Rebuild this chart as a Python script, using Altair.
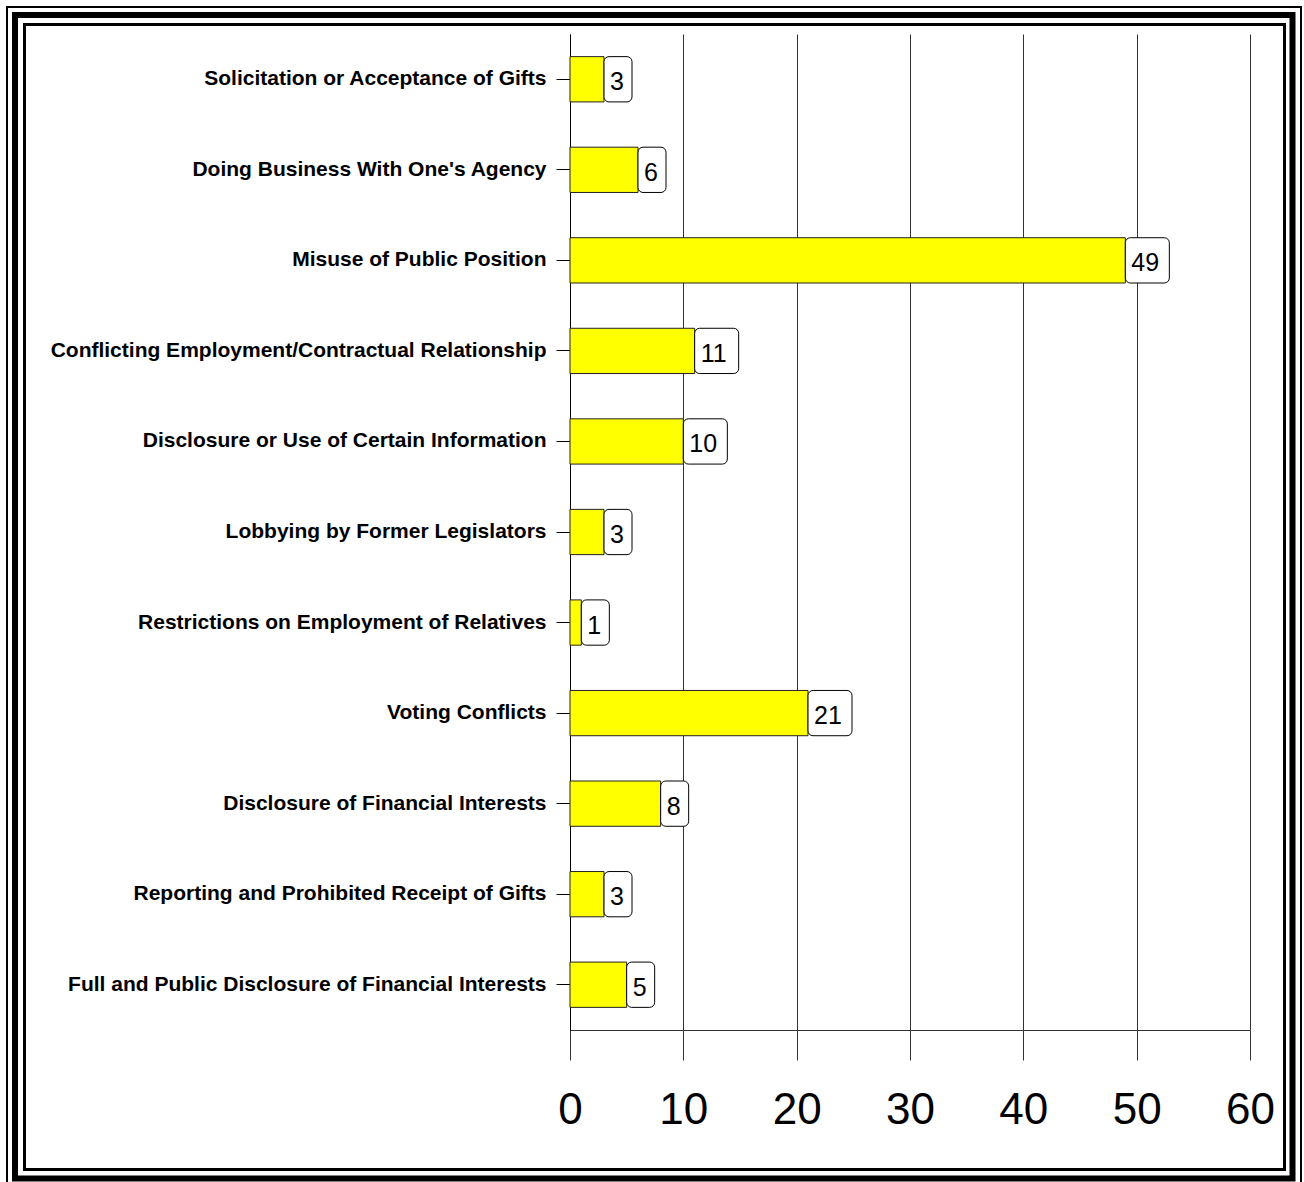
import altair as alt
import pandas as pd

categories = [
    "Solicitation or Acceptance of Gifts",
    "Doing Business With One's Agency",
    "Misuse of Public Position",
    "Conflicting Employment/Contractual Relationship",
    "Disclosure or Use of Certain Information",
    "Lobbying by Former Legislators",
    "Restrictions on  Employment of Relatives",
    "Voting Conflicts",
    "Disclosure of Financial Interests",
    "Reporting and Prohibited Receipt of Gifts",
    "Full and Public Disclosure of Financial Interests",
]
values = [3, 6, 49, 11, 10, 3, 1, 21, 8, 3, 5]
x_ticks = [0, 10, 20, 30, 40, 50, 60]

df = pd.DataFrame({"category": categories, "value": values})
df["label"] = df["value"].astype(str)

FONT = "Liberation Sans"

y_enc = alt.Y(
    "category:N",
    sort=categories,
    scale=alt.Scale(paddingInner=0.5, paddingOuter=0.25),
    axis=alt.Axis(
        title=None, labelFont=FONT, labelFontWeight="bold", labelFontSize=21,
        labelColor="black", labelPadding=10, tickSize=14, tickColor="black",
        domainColor="black", grid=False, labelLimit=700,
    ),
)
x_enc = alt.X(
    "value:Q",
    scale=alt.Scale(domain=[0, 60], nice=False),
    axis=alt.Axis(
        values=x_ticks, title=None, grid=True, gridColor="#333333",
        tickSize=30, tickColor="#333333", domainColor="#333333",
        labelFontSize=44, labelFont=FONT, labelColor="black",
        labelBaseline="alphabetic", labelPadding=63, labelFlush=False,
    ),
)

base = alt.Chart(df)

bars = base.mark_bar(color="#FFFF00", stroke="#222222", strokeWidth=1).encode(
    x=x_enc, y=y_enc
)

box1 = base.transform_filter("datum.value < 10").mark_rect(
    fill="white", stroke="black", strokeWidth=1, cornerRadius=5, x2Offset=28
).encode(x=alt.X("value:Q"), x2=alt.X2("value"), y=y_enc)

box2 = base.transform_filter("datum.value >= 10").mark_rect(
    fill="white", stroke="black", strokeWidth=1, cornerRadius=5, x2Offset=44
).encode(x=alt.X("value:Q"), x2=alt.X2("value"), y=y_enc)

labels = base.mark_text(
    align="left", baseline="alphabetic", dx=6, dy=11, fontSize=25,
    font=FONT, color="black",
).encode(x=alt.X("value:Q"), y=y_enc, text="label:N")

frame_df = pd.DataFrame({"k": [0]})
def frame(x, x2, y, y2, w):
    return alt.Chart(frame_df).mark_rect(
        fill="transparent", stroke="black", strokeWidth=w
    ).encode(x=alt.value(x), x2=alt.value(x2), y=alt.value(y), y2=alt.value(y2))

f1 = frame(7 - 570, 1301 - 570, 7 - 34, 1195 - 34, 2)
f2 = frame(15 - 570, 1292.5 - 570, 15 - 34, 1178.5 - 34, 6)
f3 = frame(24.5 - 570, 1284.5 - 570, 24.5 - 34, 1169.5 - 34, 3)

chart = alt.layer(bars, box1, box2, labels, f1, f2, f3).properties(
    width=680, height=996,
    autosize=alt.AutoSizeParams(type="none"),
    padding={"left": 570, "top": 34, "right": 54, "bottom": 152},
    background="white",
).configure_view(strokeWidth=0)

chart.save("out.html", embed_options={"renderer": "svg", "actions": False})
